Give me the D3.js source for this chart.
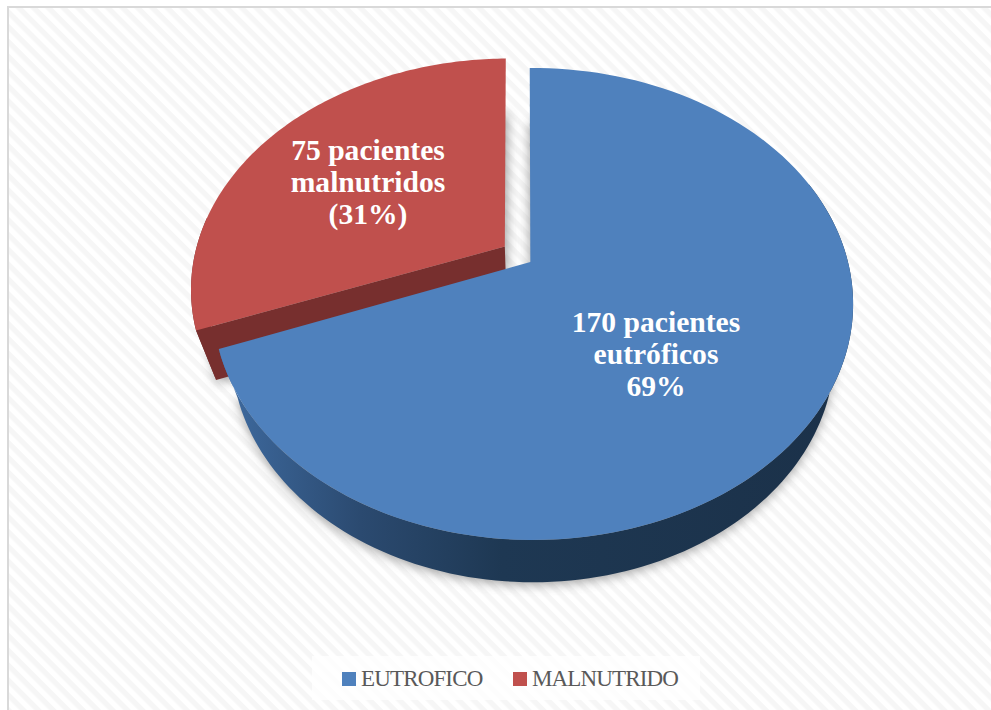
<!DOCTYPE html>
<html>
  <head>
    <meta charset="utf-8">
    <title>Pacientes</title>
    <style>
      html, body { margin: 0; padding: 0; background: #fff; }
      svg { display: block; }
    </style>
  </head>
  <body>
    <div id="container"></div>
    <script src="https://d3js.org/d3.v7.min.js"></script>
    <script>

      // DATA
      var categories = ["EUTROFICO", "MALNUTRIDO"];
      var pacientes = [170, 75];
      var sliceLabels = [
        ["170 pacientes", "eutróficos", "69%"],
        ["75 pacientes", "malnutridos", "(31%)"]
      ];

      // COLORS
      var topColor = ["#4f81bd", "#c0504d"];
      var cutColor = ["#1c3349", "#772f2e"];

      var width = 991, height = 710;

      var svg = d3.select("#container").append("svg")
        .attr("width", width)
        .attr("height", height);

      // PATTERN, GRADIENT, BLUR
      var defs = svg.append("defs");
      var hatch = defs.append("pattern")
        .attr("id", "hatch")
        .attr("patternUnits", "userSpaceOnUse")
        .attr("width", 10.5).attr("height", 10.5)
        .attr("patternTransform", "rotate(45)");
      hatch.append("rect").attr("width", 10.5).attr("height", 10.5).attr("fill", "#ffffff");
      hatch.append("rect").attr("width", 10.5).attr("height", 5.25).attr("fill", "#f6f6f6");

      var wallGrad = defs.append("linearGradient")
        .attr("id", "wallBlue")
        .attr("gradientUnits", "userSpaceOnUse")
        .attr("x1", 225).attr("x2", 840).attr("y1", 0).attr("y2", 0);
      wallGrad.append("stop").attr("offset", "0%").attr("stop-color", "#3e6a9f");
      wallGrad.append("stop").attr("offset", "22%").attr("stop-color", "#2b4a70");
      wallGrad.append("stop").attr("offset", "45%").attr("stop-color", "#1e3853");
      wallGrad.append("stop").attr("offset", "100%").attr("stop-color", "#1b3149");

      defs.append("filter").attr("id", "soft")
        .attr("x", "-10%").attr("y", "-10%").attr("width", "120%").attr("height", "120%")
        .append("feGaussianBlur").attr("stdDeviation", 6);

      // BACKGROUND
      svg.append("rect").attr("width", width).attr("height", height).attr("fill", "#fff");
      svg.append("rect")
        .attr("x", 8).attr("y", 7)
        .attr("width", width).attr("height", height)
        .attr("fill", "url(#hatch)")
        .attr("stroke", "#d9d9d9")
        .attr("stroke-width", 2);

      // TILTED DISC PROJECTION
      var cx = 533, cy = 262, scaleX = 315, scaleY = 228.5;
      var tilt = 0.178, depthW = 0.06, depthY = 54, explode = 0.095, sideShift = -0.012;

      function project(u, v, z) {
        var w = 1 + tilt * v + depthW * z;
        return [cx + scaleX * u / w, cy + (-scaleY * v + depthY * z) / w];
      }

      var rotation = -0.7 * Math.PI / 180;
      var pie = d3.pie().sort(null)
        .startAngle(rotation)
        .endAngle(2 * Math.PI + rotation);
      var slices = pie(pacientes);

      slices.forEach(function (s, i) {
        var mid = (s.startAngle + s.endAngle) / 2;
        s.du = i === 1 ? explode * Math.sin(mid) + sideShift : 0;
        s.dv = i === 1 ? explode * Math.cos(mid) + 0.015 : 0;
        s.apexU = i === 1 ? s.du : sideShift * 0.7;
        s.radius = i === 1 ? 0.99 : 1;
      });

      function rim(s, a, z) {
        return project(s.du + s.radius * Math.sin(a), s.dv + s.radius * Math.cos(a), z);
      }
      function apex(s, z) {
        return project(s.apexU, s.dv, z);
      }
      function arcAngles(a0, a1) {
        return d3.range(0, 121).map(function (k) { return a0 + (a1 - a0) * k / 120; });
      }
      function topFace(s, z) {
        return [apex(s, z)].concat(arcAngles(s.startAngle, s.endAngle).map(function (a) { return rim(s, a, z); }));
      }
      function wall(s, a0, a1) {
        var angles = arcAngles(a0, a1);
        return angles.map(function (a) { return rim(s, a, 0); })
          .concat(angles.slice().reverse().map(function (a) { return rim(s, a, 1); }));
      }
      function cutWall(s, a) {
        return [apex(s, 0), rim(s, a, 0), rim(s, a, 1), apex(s, 1)];
      }

      var line = d3.line().curve(d3.curveLinearClosed);
      var blue = slices[0], red = slices[1];

      // SHADOW UNDER THE BODY
      svg.append("g").attr("filter", "url(#soft)").attr("fill", "#808080").attr("opacity", 0.8)
        .selectAll("path")
        .data(slices)
        .enter().append("path")
        .attr("d", function (d) { return line(topFace(d, 1.05)); });

      // RED SLICE
      svg.append("path").attr("d", line(wall(red, red.startAngle, red.startAngle + 0.5))).attr("fill", cutColor[1]);
      svg.append("path").attr("d", line(cutWall(red, red.startAngle))).attr("fill", cutColor[1]);
      svg.append("path").attr("d", line(topFace(red, 0))).attr("fill", topColor[1]);

      // BLUE SLICE
      svg.append("path").attr("d", line(cutWall(blue, blue.startAngle))).attr("fill", cutColor[0]);
      svg.append("path").attr("d", line(wall(blue, 1.2, blue.endAngle))).attr("fill", "url(#wallBlue)");
      svg.append("path").attr("d", line(topFace(blue, 0))).attr("fill", topColor[0]);

      // SLICE LABELS
      var labelX = [656, 368], labelY = [332, 160], labelStep = 32;
      sliceLabels.forEach(function (lines, i) {
        svg.append("text")
          .attr("text-anchor", "middle")
          .attr("font-family", "'Liberation Serif', serif")
          .attr("font-weight", "bold")
          .attr("font-size", 29.6)
          .attr("fill", "#ffffff")
          .selectAll("tspan")
          .data(lines)
          .enter().append("tspan")
          .attr("x", labelX[i])
          .attr("y", function (d, k) { return labelY[i] + k * labelStep; })
          .text(function (d) { return d; });
      });

      // LEGEND
      svg.append("rect")
        .attr("x", 312).attr("y", 656)
        .attr("width", 388).attr("height", 44)
        .attr("fill", "#ffffff").attr("opacity", 0.8);
      var legendX = d3.scaleOrdinal().domain(categories).range([342, 513]);
      var legend = svg.selectAll(".legend")
        .data(categories)
        .enter().append("g")
        .attr("class", "legend")
        .attr("transform", function (d) { return "translate(" + legendX(d) + ",672)"; });
      legend.append("rect")
        .attr("width", 14).attr("height", 14)
        .attr("fill", function (d, i) { return topColor[i]; });
      legend.append("text")
        .attr("x", 19).attr("y", 14)
        .attr("font-family", "'Liberation Serif', serif")
        .attr("font-size", 23)
        .attr("letter-spacing", -0.85)
        .attr("fill", "#595959")
        .text(function (d) { return d; });

    </script>
  </body>
</html>
